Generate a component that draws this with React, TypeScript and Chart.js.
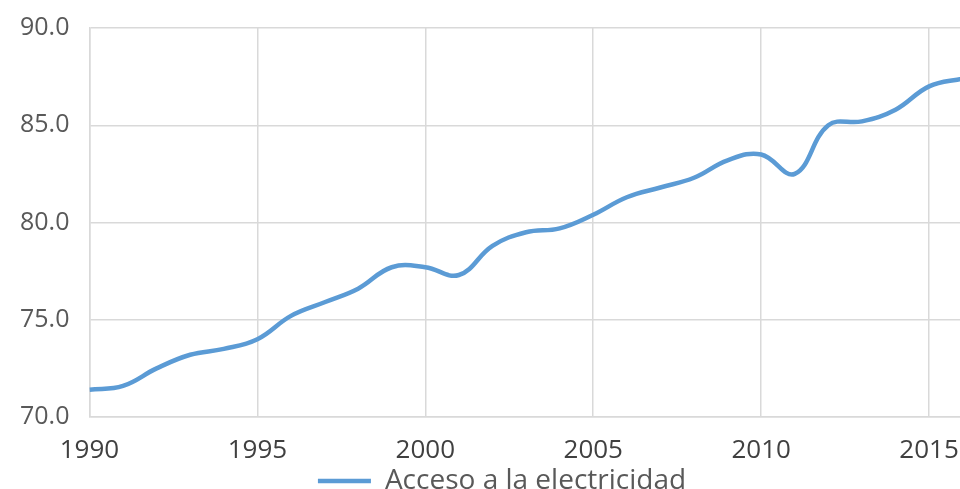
import { useEffect, useRef } from "react";
import { Chart, registerables } from "chart.js";

Chart.register(...registerables);

const years = [1990, 1991, 1992, 1993, 1994, 1995, 1996, 1997, 1998, 1999, 2000, 2001, 2002, 2003, 2004, 2005, 2006, 2007, 2008, 2009, 2010, 2011, 2012, 2013, 2014, 2015, 2016];
const access = [71.4, 71.6, 72.5, 73.2, 73.5, 74.0, 75.2, 75.9, 76.6, 77.7, 77.7, 77.3, 78.8, 79.5, 79.7, 80.4, 81.3, 81.8, 82.3, 83.2, 83.5, 82.5, 85.0, 85.2, 85.8, 87.0, 87.4];
const seriesLabel = "Acceso a la electricidad";
const xTicks = [1990, 1995, 2000, 2005, 2010, 2015];
const xMin = 1990;
const xMax = 2017.23;
const yTicks = [70, 75, 80, 85, 90];

export default function App() {
  const ref = useRef<HTMLCanvasElement | null>(null);
  useEffect(() => {
    document.body.style.margin = "0";
    const ctx = ref.current!;
    const font = "'Open Sans', sans-serif";
    const chart = new Chart(ctx, {
      type: "line",
      data: {
        datasets: [
          {
            label: seriesLabel,
            data: years.map((y, i) => ({ x: y, y: access[i] })),
            borderColor: "#5B9BD5",
            backgroundColor: "#5B9BD5",
            borderWidth: 4.5,
            pointRadius: 0,
            tension: 0.4,
            fill: false,
          },
        ],
      },
      options: {
        animation: false,
        responsive: false,
        maintainAspectRatio: false,
        layout: { padding: 0 },
        plugins: {
          legend: {
            position: "bottom",
            labels: {
              boxWidth: 53,
              boxHeight: 0,
              color: "#595959",
              font: { family: font, size: 28 },
              padding: 0,
              generateLabels: () => [
                {
                  text: seriesLabel,
                  strokeStyle: "#5B9BD5",
                  fillStyle: "#5B9BD5",
                  lineWidth: 4.5,
                  datasetIndex: 0,
                  fontColor: "#595959",
                  hidden: false,
                },
              ],
            },
          },
          tooltip: { enabled: false },
        },
        scales: {
          x: {
            type: "linear",
            min: xMin,
            max: xMax,
            afterBuildTicks: (s) => {
              s.ticks = xTicks.map((v) => ({ value: v }));
            },
            afterFit: (s) => {
              s.height = 50;
            },
            ticks: {
              color: "#404040",
              font: { family: font, size: 26 },
              padding: 18,
              maxRotation: 0,
              callback: (v) => String(v),
            },
            grid: { color: "#D9D9D9", lineWidth: 1.5, drawTicks: false },
            border: { color: "#D9D9D9", width: 1.5 },
          },
          y: {
            min: yTicks[0],
            max: yTicks[yTicks.length - 1],
            afterBuildTicks: (s) => {
              s.ticks = yTicks.map((v) => ({ value: v }));
            },
            ticks: {
              color: "#595959",
              font: { family: font, size: 25 },
              padding: 20,
              callback: (v) => Number(v).toFixed(1),
            },
            grid: { color: "#D9D9D9", lineWidth: 1.5, drawTicks: false },
            border: { color: "#D9D9D9", width: 1.5 },
          },
        },
      },
    });
    return () => chart.destroy();
  }, []);
  return (
    <div style={{ width: 960, height: 489, overflow: "hidden", position: "relative" }}>
      <canvas ref={ref} width={1004} height={512} style={{ display: "block", marginTop: -7 }} />
    </div>
  );
}
